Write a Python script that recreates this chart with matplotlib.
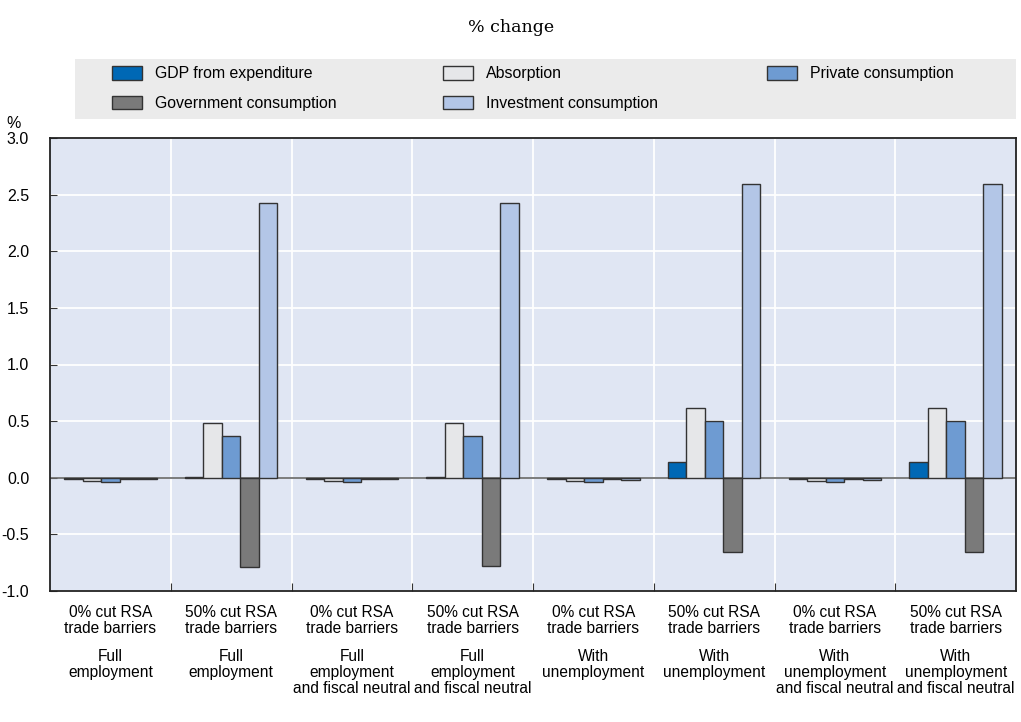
import matplotlib.pyplot as plt
from matplotlib.patches import Patch
from matplotlib.transforms import ScaledTranslation
import numpy as np

plt.rcParams['font.family'] = ['Liberation Sans Narrow', 'Liberation Sans', 'DejaVu Sans']

scenarios = ["0% cut RSA\ntrade barriers", "50% cut RSA\ntrade barriers"] * 4
settings = ["Full\nemployment", "Full\nemployment",
            "Full\nemployment\nand fiscal neutral", "Full\nemployment\nand fiscal neutral",
            "With\nunemployment", "With\nunemployment",
            "With\nunemployment\nand fiscal neutral", "With\nunemployment\nand fiscal neutral"]

gdp = [-0.01, 0.003, -0.01, 0.003, -0.01, 0.14, -0.01, 0.14]
absorption = [-0.03, 0.48, -0.03, 0.48, -0.03, 0.62, -0.03, 0.62]
private = [-0.04, 0.37, -0.04, 0.37, -0.04, 0.50, -0.04, 0.50]
government = [-0.01, -0.79, -0.01, -0.78, -0.01, -0.66, -0.01, -0.66]
investment = [-0.01, 2.43, -0.01, 2.43, -0.02, 2.59, -0.02, 2.59]

series = [("GDP from expenditure", gdp, "#0068b5"),
          ("Absorption", absorption, "#e6e7e9"),
          ("Private consumption", private, "#6e9bd2"),
          ("Government consumption", government, "#7a7a7a"),
          ("Investment consumption", investment, "#b3c6e7")]

W, H = 1021, 722
fig = plt.figure(figsize=(W / 100, H / 100), dpi=100)
ax = fig.add_axes([50 / W, 1 - 591 / H, 966 / W, 453 / H])
ax.set_facecolor("#e0e6f3")

x = np.arange(len(scenarios))
w = 0.153
for i, (name, vals, col) in enumerate(series):
    ax.bar(x + (i - 2) * w, vals, w, color=col, edgecolor="#333333", linewidth=1.0, zorder=3)

ax.axhline(0, color="#666666", linewidth=1.2, zorder=2)
for b in np.arange(0.5, len(scenarios) - 0.5, 1):
    ax.axvline(b, color="white", linewidth=1.3, zorder=1)
yt = np.arange(-1.0, 3.01, 0.5)
for v in yt:
    ax.axhline(v, color="white", linewidth=1.3, zorder=1)

ax.set_xlim(-0.5, len(scenarios) - 0.5)
ax.set_ylim(-1.0, 3.0)
ax.set_yticks(yt)
ax.set_yticklabels([f"{v:.1f}" for v in yt], fontsize=11.5)
ax.tick_params(axis="y", direction="in", length=5, color="#333333", pad=15)
ax.set_xticks(np.arange(0.5, len(scenarios) - 0.5, 1))
ax.set_xticklabels([])
ax.tick_params(axis="x", direction="in", length=6, color="#333333")
for s in ax.spines.values():
    s.set_color("#222222")
    s.set_linewidth(1.3)

off1 = ax.transData + ScaledTranslation(0, -14 / 100, fig.dpi_scale_trans)
off2 = ax.transData + ScaledTranslation(0, -58 / 100, fig.dpi_scale_trans)
for i in range(len(scenarios)):
    ax.text(i, -1.0, scenarios[i], transform=off1, ha="center", va="top",
            fontsize=11.2, linespacing=1.12)
    ax.text(i, -1.0, settings[i], transform=off2, ha="center", va="top",
            fontsize=11.2, linespacing=1.1)

fig.text(511 / W, 1 - 27 / H, "% change", ha="center", va="center",
         fontsize=12.5, family="DejaVu Serif")
fig.text(14 / W, 1 - 123 / H, "%", ha="center", va="center", fontsize=11.5)

lax = fig.add_axes([75 / W, 1 - 119 / H, 941 / W, 60 / H])
lax.set_facecolor("#ebebeb")
lax.set_xticks([])
lax.set_yticks([])
for s in lax.spines.values():
    s.set_visible(False)

handles = {n: Patch(facecolor=c, edgecolor="#333333", label=n) for n, _, c in series}
columns = [(112, ["GDP from expenditure", "Government consumption"]),
           (443, ["Absorption", "Investment consumption"]),
           (767, ["Private consumption"])]
for xpx, names in columns:
    fig.legend([handles[n] for n in names], names, loc="upper left",
               bbox_to_anchor=(xpx / W, 1 - 66 / H), bbox_transform=fig.transFigure,
               frameon=False, fontsize=11.4, borderpad=0, borderaxespad=0,
               handlelength=1.9, handleheight=0.95, handletextpad=0.8,
               labelspacing=0.9)

fig.savefig("out.png", dpi=100)
